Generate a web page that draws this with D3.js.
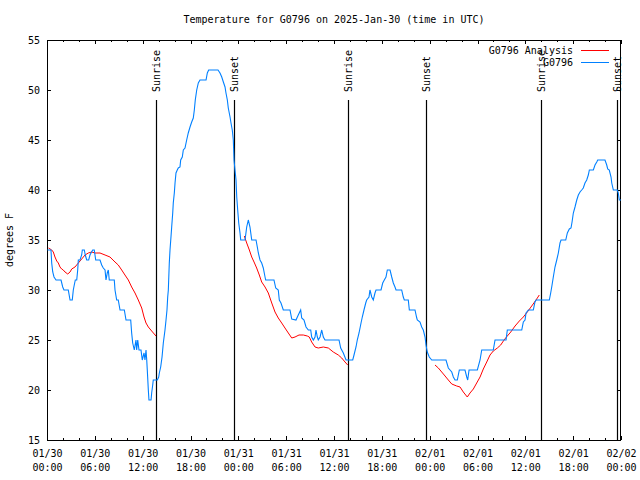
<!DOCTYPE html>
<html><head><meta charset="utf-8">
<script src="https://cdn.jsdelivr.net/npm/d3@7"></script>
<style>
html,body{margin:0;padding:0;background:#fff;}
svg text{font-family:"DejaVu Sans Mono","Liberation Mono",monospace;font-size:10px;fill:#000;}
</style></head>
<body><svg id="chart" width="640" height="480"></svg>
<script>
// ---- data (hours since 2025-01-30 00:00 UTC, temperature in F) ----
const title = "Temperature for G0796 on 2025-Jan-30 (time in UTC)";
const yLabel = "degrees F";
const seriesNames = ["G0796 Analysis", "G0796"];
const obsHours = [0.06,0.50,0.59,0.72,0.88,1.13,1.76,1.97,2.13,2.67,2.89,3.17,3.30,3.42,3.55,3.73,3.85,3.93,4.14,4.35,4.43,4.68,4.80,4.98,5.23,5.39,5.52,5.73,5.93,6.11,6.65,6.86,7.06,7.28,7.40,7.56,7.69,7.81,8.44,8.53,8.74,8.94,9.16,9.70,9.91,10.50,10.62,10.75,10.95,11.16,11.25,11.38,11.54,11.79,11.95,12.17,12.29,12.42,12.51,12.58,12.71,12.79,13.05,13.13,13.26,13.33,13.84,14.01,14.09,14.26,14.43,14.59,14.80,14.93,15.05,15.14,15.22,15.34,15.43,15.55,15.64,15.77,15.84,15.97,16.06,16.18,16.34,16.47,16.68,16.77,16.97,17.10,17.31,17.52,17.72,17.94,18.15,18.35,18.48,18.60,18.78,18.98,19.19,19.95,20.11,20.28,21.45,21.70,21.92,22.12,22.33,22.45,22.62,22.74,22.96,23.08,23.24,23.37,23.46,23.58,23.71,23.80,23.92,24.05,24.21,24.30,24.84,25.05,25.25,25.46,25.68,26.22,26.38,26.51,26.72,26.93,27.13,27.35,27.43,28.47,28.69,29.01,29.14,29.35,29.64,30.48,30.70,31.23,31.52,31.82,31.95,32.24,32.49,32.78,33.08,33.20,33.41,33.62,33.74,33.91,34.03,34.25,34.46,34.66,34.87,36.63,36.84,37.17,37.51,38.35,38.51,38.76,38.92,39.14,39.39,39.55,39.76,39.98,40.10,40.39,40.51,40.73,40.93,41.14,41.27,41.90,42.11,42.31,42.52,42.69,43.03,43.24,43.44,43.65,43.78,44.49,44.69,44.82,45.32,45.45,46.16,46.38,46.45,46.79,47.00,47.20,47.42,47.54,47.70,47.95,48.26,50.05,50.34,50.77,50.97,51.18,51.47,51.72,52.43,52.65,52.77,52.94,53.98,54.32,54.53,55.98,56.20,57.58,57.74,59.55,59.75,59.96,60.09,60.38,61.00,61.21,61.34,63.01,63.18,63.31,63.51,63.72,63.94,64.14,64.35,64.48,65.07,65.27,65.52,65.73,65.86,66.02,66.23,66.45,66.65,66.86,67.07,67.27,67.48,67.70,67.90,68.03,68.53,68.74,68.96,69.08,69.99,70.21,70.33,70.53,70.75,70.84,71.04,71.54,71.66,71.79,72.00];
const obsTemps = [34,34,32.7,31.8,31.3,31,31,30.3,30,30,29,29,30,30.5,31,31,32,33,33,33.5,34,34,33.5,33,33,33.5,33.7,34,34,33,33,32.5,32.2,32,31,31.7,32,31,31,30,29,29,28,28,27,27,25.7,24.7,24,25,24,25,24,24,23,23.7,23,24,23,22,20,19,19,19.7,20.5,21,21,21.3,21.7,22.3,23.3,24.7,26,27,28,29.3,30,32.7,34,35.3,36.3,37.7,38.7,39.7,40.7,41.7,42,42.2,42.3,43,43.3,44,44.2,45,45.7,46.3,46.8,47.2,48,49,50,50.7,51,51,51.7,52,52,51.7,51.3,50.8,50.3,49.7,49,48.2,47.3,46.7,46,45,43,42,41,39.3,38,36.7,35.7,35,35,36.3,37,36.3,35,35,34.3,33.7,33,32.7,32.2,31.3,31,31,30.2,30,29,28.7,28,28,27.1,27,27.5,28,27.2,27,26.3,26,26,25.3,25,25.3,26,25.3,25,25.3,26,25.3,25,25,24.2,23.7,23,23,23.5,24.3,25,25.7,26.7,27.3,28,28.7,29,29.3,30,29.3,29,29.7,30,30,30.7,31,31.3,32,32,31.3,30.7,30.3,30,30,29.3,29,29,28,28,27.2,27,26.8,26.3,26,25.3,24.5,23.8,23.3,23,23,22.2,21.8,21.3,21,21,22,22,21.3,21,22,22,23,24,24,25,25,26,26,26.8,27,27.7,28,28,28.8,29,29,29.7,30.3,31.3,32.3,33,33.7,34.7,35,35,35.7,36.1,36.2,36.8,37.7,38.3,39,39.5,39.8,40,40.2,40.7,41,41.5,42,42,42.5,42.8,43,43,42.5,42.1,42,41.3,40.7,40,40,39.7,39,39];
// analysis: three daytime segments
const anaHours1 = [0.19,0.59,0.79,1.00,1.22,1.42,1.63,1.84,2.04,2.26,2.60,2.89,3.10,3.51,3.93,4.35,4.77,5.18,5.61,6.02,6.65,7.28,7.90,8.53,8.94,9.37,9.78,10.20,10.62,11.04,11.45,11.88,12.17,12.42,12.71,13.13,13.67];
const anaTemps1 = [34.2,34,33.8,33.3,32.9,32.7,32.3,32.1,32,31.8,31.6,31.8,32.1,32.3,32.7,33.1,33.5,33.7,33.8,33.7,33.7,33.5,33.3,32.8,32.5,32,31.5,31,30.3,29.7,29,28.2,27.3,26.7,26.3,25.9,25.4];
const anaHours2 = [24.75,25.05,25.38,25.68,25.97,26.30,26.63,26.93,27.35,27.76,28.19,28.60,29.01,29.44,29.85,30.27,30.70,31.11,31.61,32.15,32.65,32.90,33.20,33.62,34.03,34.66,35.29,35.91,36.54,36.97,37.38,37.72];
const anaTemps2 = [35.4,34.7,34,33.3,32.8,32.2,31.5,30.8,30.3,29.7,28.7,27.8,27.2,26.7,26.2,25.7,25.2,25.3,25.5,25.5,25.4,25.3,24.8,24.3,24.2,24.3,24.2,23.8,23.5,23.2,22.8,22.5];
const anaHours3 = [48.67,49.09,49.51,49.93,50.34,50.77,51.39,51.81,52.22,52.72,53.06,53.48,53.90,54.32,54.73,55.16,55.57,55.98,56.49,56.91,57.33,57.74,58.17,58.71,59.25,59.75,60.25,60.80,61.34,61.75];
const anaTemps3 = [22.5,22.2,21.8,21.4,21,20.6,20.4,20.3,19.8,19.3,19.7,20.1,20.7,21.3,22.1,22.8,23.5,23.9,24.2,24.5,25,25.4,25.8,26.4,26.9,27.3,27.8,28.4,29,29.5];
const sunHours = [13.67,23.46,37.76,47.54,61.97,71.54];
const sunLabels = ["Sunrise","Sunset","Sunrise","Sunset","Sunrise","Sunset"];
const sunLineTop = 49;
const yTicks = [15,20,25,30,35,40,45,50,55];
const xTickHours = [0,6,12,18,24,30,36,42,48,54,60,66,72];

// ---- drawing ----
const start = Date.UTC(2025,0,30);
const toDate = h => new Date(start + h*3600000);
const svg = d3.select("#chart");
const L=47, R=621, T=40, B=440;
const x = d3.scaleUtc().domain([toDate(0), toDate(72)]).range([L, R]);
const y = d3.scaleLinear().domain([15,55]).range([B, T]);

// frame
svg.append("rect").attr("x",L+0.5).attr("y",T+0.5).attr("width",R-L-1).attr("height",B-T)
  .attr("fill","none").attr("stroke","#000").attr("shape-rendering","crispEdges");

const minorHours = d3.range(0,73,2);
const fmtD = d3.utcFormat("%m/%d"), fmtT = d3.utcFormat("%H:%M");
function styleAxis(g){ g.select(".domain").remove(); g.selectAll("line").attr("shape-rendering","crispEdges"); g.attr("font-family",null).attr("font-size",null); }

// bottom
svg.append("g").attr("transform",`translate(0,${B})`)
  .call(d3.axisBottom(x).tickValues(minorHours.map(toDate)).tickSize(-2).tickSizeOuter(0).tickFormat(""))
  .call(styleAxis);
const bx = svg.append("g").attr("transform",`translate(0,${B})`)
  .call(d3.axisBottom(x).tickValues(xTickHours.map(toDate)).tickSize(-4).tickSizeOuter(0).tickPadding(8))
  .call(styleAxis);
bx.selectAll(".tick text").each(function(d){
  const t=d3.select(this); t.text(null).attr("y",null).attr("dy",null);
  t.append("tspan").attr("x",0).attr("y",17).text(fmtD(d));
  t.append("tspan").attr("x",0).attr("y",31).text(fmtT(d));
});
// top
svg.append("g").attr("transform",`translate(0,${T})`)
  .call(d3.axisTop(x).tickValues(minorHours.map(toDate)).tickSize(-2).tickSizeOuter(0).tickFormat(""))
  .call(styleAxis);
svg.append("g").attr("transform",`translate(0,${T})`)
  .call(d3.axisTop(x).tickValues(xTickHours.map(toDate)).tickSize(-4).tickSizeOuter(0).tickFormat(""))
  .call(styleAxis);
// left / right
svg.append("g").attr("transform",`translate(${L},0)`)
  .call(d3.axisLeft(y).tickValues(yTicks).tickSize(-4).tickSizeOuter(0).tickPadding(7).tickFormat(d3.format("d")))
  .call(styleAxis);
svg.append("g").attr("transform",`translate(${R},0)`)
  .call(d3.axisRight(y).tickValues(yTicks).tickSize(-4).tickSizeOuter(0).tickFormat(""))
  .call(styleAxis);

// title + y label
svg.append("text").attr("x",(L+R)/2).attr("y",23).attr("text-anchor","middle").text(title);
svg.append("text").attr("transform",`translate(13,${(T+B)/2}) rotate(-90)`).attr("text-anchor","middle").text(yLabel);

// sun lines
sunHours.forEach((h,i)=>{
  const xx = Math.round(x(toDate(h)))+0.5;
  svg.append("line").attr("x1",xx).attr("x2",xx).attr("y1",y(sunLineTop)).attr("y2",B)
    .attr("stroke","#000").attr("stroke-width",1.2);
  svg.append("text").attr("transform",`translate(${xx},${y(sunLineTop)-8}) rotate(-90)`)
    .attr("text-anchor","start").attr("dy","0.35em").text(sunLabels[i]);
});

const line = d3.line().x(d=>x(toDate(d[0]))).y(d=>y(d[1]));
const red="#ff0000", blue="#0080ff";
[[anaHours1,anaTemps1],[anaHours2,anaTemps2],[anaHours3,anaTemps3]].forEach(([hs,ts])=>{
  svg.append("path").datum(d3.zip(hs,ts)).attr("d",line).attr("fill","none").attr("stroke",red).attr("stroke-width",1);
});
svg.append("path").datum(d3.zip(obsHours,obsTemps)).attr("d",line).attr("fill","none").attr("stroke",blue).attr("stroke-width",1.1);

// legend
const legColors=[red,blue];
seriesNames.forEach((n,i)=>{
  const ly = 50 + i*12;
  svg.append("text").attr("x",573).attr("y",ly).attr("dy","0.35em").attr("text-anchor","end").text(n);
  svg.append("line").attr("x1",581).attr("x2",609).attr("y1",ly+0.5).attr("y2",ly+0.5).attr("stroke",legColors[i]).attr("stroke-width",1);
});
</script></body></html>
